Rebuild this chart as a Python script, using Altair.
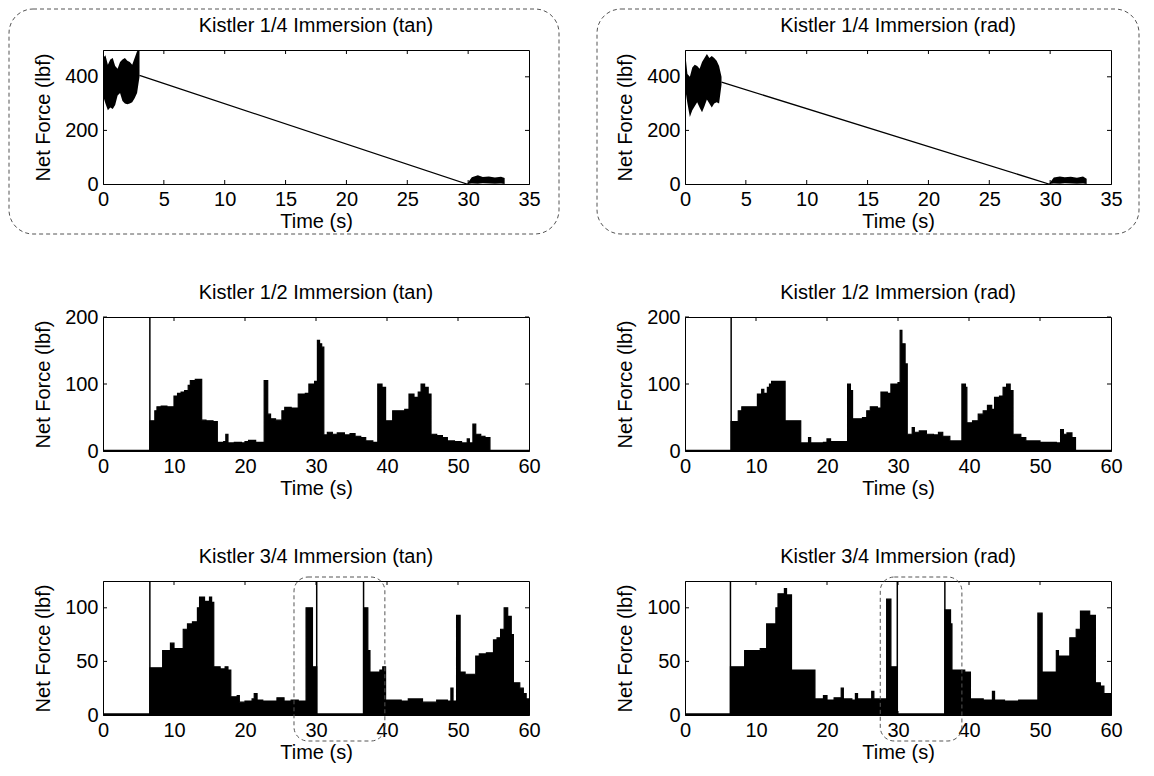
import altair as alt
import pandas as pd

FONT = "Liberation Sans"
W = 426
H = 134

# ---------------- data ----------------
# Kistler 1/4 Immersion (tan): oscillating band, straight ramp, final band
q_tan_band_t = [0.0, 0.2, 0.4, 0.6, 0.8, 1.0, 1.2, 1.4, 1.6, 1.8, 2.0, 2.2, 2.4, 2.6, 2.8, 3.0]
q_tan_band_hi = [470, 480, 445, 465, 470, 440, 430, 455, 465, 470, 460, 455, 445, 470, 495, 500]
q_tan_band_lo = [330, 300, 275, 285, 280, 295, 330, 340, 310, 300, 298, 300, 305, 320, 340, 400]
q_tan_ramp_t = [3.0, 29.9]
q_tan_ramp_v = [405, 0]
q_tan_end_t = [29.9, 30.3, 30.8, 31.2, 31.7, 32.2, 32.7, 33.0]
q_tan_end_hi = [0, 25, 33, 26, 28, 24, 27, 22]
q_tan_end_lo = [0, 2, 1, 3, 2, 1, 2, 0]

# Kistler 1/4 Immersion (rad)
q_rad_band_t = [0.0, 0.2, 0.4, 0.6, 0.8, 1.0, 1.2, 1.4, 1.6, 1.8, 2.0, 2.2, 2.4, 2.6, 2.8, 3.0]
q_rad_band_hi = [495, 410, 400, 435, 445, 440, 430, 455, 470, 485, 470, 478, 470, 460, 440, 400]
q_rad_band_lo = [360, 300, 250, 275, 290, 305, 285, 268, 290, 315, 300, 285, 300, 305, 300, 370]
q_rad_ramp_t = [3.0, 29.9]
q_rad_ramp_v = [380, 0]
q_rad_end_t = [29.9, 30.3, 30.8, 31.2, 31.7, 32.2, 32.7, 33.0]
q_rad_end_hi = [0, 24, 28, 25, 27, 23, 28, 20]
q_rad_end_lo = [0, 2, 1, 3, 2, 1, 2, 0]

# Kistler 1/2 Immersion (tan)
h_tan_t = [0, 6.6, 7.3, 7.6, 8.2, 9.0, 10.0, 10.5, 11.0, 11.5, 12.0, 12.3, 13.0, 13.9, 14.5,
           15.5, 16.1, 17.0, 17.3, 17.6, 18.5, 19.5, 20.0, 20.5, 21.5, 22.7, 23.2, 23.6, 24.3,
           25.2, 25.6, 26.5, 27.5, 28.5, 29.0, 29.8, 30.2, 30.5, 30.8, 31.1, 31.6, 32.3, 33.0,
           34.0, 34.8, 35.5, 36.3, 37.0, 38.0, 38.7, 39.3, 39.8, 40.8, 41.5, 42.5, 43.1, 43.8,
           44.4, 44.8, 45.3, 45.8, 46.2, 47.0, 47.8, 48.5, 49.5, 50.5, 51.3, 51.6, 52.1, 52.5,
           53.2, 53.8, 54.5, 60]
h_tan_v = [1, 45, 60, 66, 67, 66, 82, 86, 88, 90, 98, 105, 107, 46, 45,
           44, 13, 14, 25, 12, 13, 12, 14, 16, 13, 105, 55, 48, 46,
           60, 65, 64, 85, 86, 100, 104, 165, 160, 155, 24, 28, 25, 27,
           24, 26, 22, 20, 15, 13, 100, 95, 45, 60, 60, 62, 85, 80,
           88, 100, 95, 85, 25, 23, 20, 15, 14, 12, 18, 12, 40, 25,
           22, 20, 1, 1]
h_tan_spike_t = [6.6]

# Kistler 1/2 Immersion (rad)
h_rad_t = [0, 6.5, 7.5, 8.0, 10.2, 10.8, 11.1, 11.6, 11.9, 12.2, 14.1, 16.3, 17.4, 17.7, 19.5,
           20.0, 20.5, 22.0, 22.9, 23.3, 23.6, 25.0, 25.6, 26.1, 27.1, 27.6, 28.5, 29.0, 30.0,
           30.3, 30.55, 31.0, 31.3, 32.0, 32.3, 33.0, 34.0, 35.0, 35.7, 36.3, 37.3, 39.0, 39.5,
           39.7, 40.5, 41.3, 42.0, 42.6, 43.2, 43.6, 44.3, 44.8, 45.3, 45.8, 46.2, 47.3, 48.0,
           50.0, 52.3, 52.9, 53.3, 53.8, 54.5, 55.0, 60]
h_rad_v = [1, 44, 60, 66, 85, 92, 86, 95, 100, 104, 45, 12, 20, 12, 13,
           18, 14, 14, 100, 90, 48, 50, 60, 66, 64, 88, 86, 100, 102,
           180, 160, 130, 25, 35, 28, 30, 25, 24, 28, 22, 15, 100, 95,
           42, 45, 55, 60, 68, 62, 80, 82, 95, 100, 90, 25, 20, 15,
           13, 12, 32, 25, 27, 20, 1, 1]
h_rad_spike_t = [6.5]

# Kistler 3/4 Immersion (tan)
tq_tan_t = [0, 6.6, 8.4, 9.5, 10.0, 11.3, 11.9, 12.6, 13.3, 13.6, 14.3, 15.0, 15.3, 15.6, 16.5,
            17.2, 17.6, 18.0, 18.9, 19.2, 20.0, 21.0, 21.3, 21.7, 22.5, 24.0, 24.5, 25.5, 26.5,
            27.5, 28.6, 29.5, 30.1, 36.7, 37.3, 37.6, 39.0, 39.4, 39.8, 42.0, 43.0, 45.0, 47.0,
            48.5, 49.0, 49.3, 49.8, 50.3, 51.0, 52.5, 53.0, 54.0, 55.0, 55.5, 56.0, 56.5, 57.0,
            57.5, 57.8, 58.7, 59.2, 59.6, 60]
tq_tan_v = [1, 44, 60, 67, 62, 80, 85, 87, 100, 110, 106, 110, 105, 45, 43,
            45, 42, 17, 18, 12, 13, 15, 20, 14, 13, 13, 16, 13, 14,
            13, 100, 45, 1, 100, 60, 40, 42, 45, 14, 13, 15, 12, 14,
            13, 25, 13, 93, 40, 38, 55, 57, 58, 70, 72, 80, 100, 92,
            75, 30, 25, 20, 15, 15]
tq_tan_spike_t = [6.6, 30.1, 36.7]
tq_tan_box = [26.9, 39.7]

# Kistler 3/4 Immersion (rad)
tq_rad_t = [0, 6.4, 8.4, 10.6, 11.5, 12.8, 13.1, 14.0, 14.3, 15.0, 18.3, 19.5, 20.0, 21.0, 22.0,
            22.3, 23.5, 24.0, 24.3, 26.3, 26.6, 27.0, 28.4, 29.0, 29.9, 36.6, 37.4, 37.6, 39.4,
            40.2, 42.0, 43.3, 43.6, 45.0, 47.0, 49.7, 50.3, 52.3, 52.6, 54.2, 55.1, 55.7, 57.0,
            57.8, 58.5, 59.0, 59.5, 60]
tq_rad_v = [1, 45, 60, 62, 85, 100, 113, 118, 112, 42, 15, 18, 14, 16, 25,
            15, 14, 20, 15, 22, 15, 15, 108, 45, 1, 98, 85, 42, 40,
            15, 14, 22, 14, 13, 14, 95, 40, 60, 55, 72, 80, 97, 93,
            30, 27, 20, 20, 20]
tq_rad_spike_t = [6.4, 29.9, 36.6]
tq_rad_box = [27.5, 39.0]

X_TICKS_35 = [0, 5, 10, 15, 20, 25, 30, 35]
X_TICKS_60 = [0, 10, 20, 30, 40, 50, 60]
Y_TICKS_500 = [0, 200, 400]
Y_TICKS_200 = [0, 100, 200]
Y_TICKS_125 = [0, 50, 100]


# ---------------- helpers ----------------
def enc_x(xmax, ticks):
    return alt.X("t:Q", scale=alt.Scale(domain=[0, xmax], nice=False, zero=False),
                 axis=alt.Axis(values=ticks, title="Time (s)", titleX=W / 2, titleY=37,
                               titleAlign="center", titleBaseline="middle"))


def enc_y(ymax, ticks):
    return alt.Y("v:Q", scale=alt.Scale(domain=[0, ymax], nice=False, zero=True),
                 axis=alt.Axis(values=ticks, title="Net Force (lbf)", titleX=-60, titleY=H / 2,
                               titleAngle=270, titleAlign="center", titleBaseline="middle"))


def tick_layers(X, Y, xt, yt):
    dx = pd.DataFrame({"t": xt[1:-1]})
    dy = pd.DataFrame({"v": yt[1:]})
    r = dict(color="black", strokeWidth=1)
    return [
        alt.Chart(dx).mark_rule(**r).encode(x=X, y=alt.value(H), y2=alt.value(H - 4)),
        alt.Chart(dx).mark_rule(**r).encode(x=X, y=alt.value(0), y2=alt.value(4)),
        alt.Chart(dy).mark_rule(**r).encode(y=Y, x=alt.value(0), x2=alt.value(4)),
        alt.Chart(dy).mark_rule(**r).encode(y=Y, x=alt.value(W), x2=alt.value(W - 4)),
    ]


def frame(x1, x2, y1, y2):
    return alt.Chart(pd.DataFrame({"k": [0]})).mark_rect(
        filled=False, stroke="#555", strokeWidth=1, strokeDash=[4, 3], cornerRadius=24
    ).encode(x=alt.value(x1), x2=alt.value(x2), y=alt.value(y1), y2=alt.value(y2))


def title_mark(text):
    return alt.Chart(pd.DataFrame({"k": [0]})).mark_text(
        font=FONT, fontSize=20, color="black", align="center", baseline="middle"
    ).encode(x=alt.value(W / 2), y=alt.value(-24), text=alt.value(text))


def quarter_panel(name, bt, bhi, blo, rt, rv, et, ehi, elo, fx1, fx2):
    X = enc_x(35, X_TICKS_35)
    Y = enc_y(500, Y_TICKS_500)
    band = alt.Chart(pd.DataFrame({"t": bt, "v": bhi, "lo": blo})).mark_area(
        color="black", clip=True).encode(x=X, y=Y, y2=alt.Y2("lo"))
    ramp = alt.Chart(pd.DataFrame({"t": rt, "v": rv})).mark_line(
        color="black", strokeWidth=1.3, clip=True).encode(x=X, y=Y)
    end = alt.Chart(pd.DataFrame({"t": et, "v": ehi, "lo": elo})).mark_area(
        color="black", clip=True).encode(x=X, y=Y, y2=alt.Y2("lo"))
    layers = [band, ramp, end] + tick_layers(X, Y, X_TICKS_35, Y_TICKS_500) + [
        frame(fx1, fx2, -41, 184), title_mark(name)]
    return alt.layer(*layers).properties(width=W, height=H)


def signal_panel(name, t, v, spikes, ymax, yt, box=None):
    X = enc_x(60, X_TICKS_60)
    Y = enc_y(ymax, yt)
    df = pd.DataFrame({"t": t, "v": v})
    area = alt.Chart(df).mark_area(color="black", interpolate="step-after", clip=True).encode(x=X, y=Y)
    line = alt.Chart(df).mark_line(color="black", strokeWidth=1.2, interpolate="step-after",
                                   clip=True).encode(x=X, y=Y)
    sp = alt.Chart(pd.DataFrame({"t": spikes, "v": [0] * len(spikes), "v2": [ymax] * len(spikes)})
                   ).mark_rule(color="black", strokeWidth=1.5, clip=True).encode(x=X, y=Y, y2=alt.Y2("v2"))
    layers = [area, line, sp] + tick_layers(X, Y, X_TICKS_60, yt)
    if box is not None:
        layers.append(
            alt.Chart(pd.DataFrame({"t": [box[0]], "t2": [box[1]]})).mark_rect(
                filled=False, stroke="#555", strokeWidth=1, strokeDash=[4, 3], cornerRadius=14
            ).encode(x=X, x2=alt.X2("t2"), y=alt.value(-4), y2=alt.value(160))
        )
    layers.append(title_mark(name))
    return alt.layer(*layers).properties(width=W, height=H)


p1 = quarter_panel("Kistler 1/4 Immersion (tan)", q_tan_band_t, q_tan_band_hi, q_tan_band_lo,
                   q_tan_ramp_t, q_tan_ramp_v, q_tan_end_t, q_tan_end_hi, q_tan_end_lo, -94, W + 30)
p2 = quarter_panel("Kistler 1/4 Immersion (rad)", q_rad_band_t, q_rad_band_hi, q_rad_band_lo,
                   q_rad_ramp_t, q_rad_ramp_v, q_rad_end_t, q_rad_end_hi, q_rad_end_lo, -88, W + 28)
p3 = signal_panel("Kistler 1/2 Immersion (tan)", h_tan_t, h_tan_v, h_tan_spike_t, 200, Y_TICKS_200)
p4 = signal_panel("Kistler 1/2 Immersion (rad)", h_rad_t, h_rad_v, h_rad_spike_t, 200, Y_TICKS_200)
p5 = signal_panel("Kistler 3/4 Immersion (tan)", tq_tan_t, tq_tan_v, tq_tan_spike_t, 125, Y_TICKS_125,
                  box=tq_tan_box)
p6 = signal_panel("Kistler 3/4 Immersion (rad)", tq_rad_t, tq_rad_v, tq_rad_spike_t, 125, Y_TICKS_125,
                  box=tq_rad_box)

chart = alt.concat(p1, p2, p3, p4, p5, p6, columns=2, spacing={"row": 47, "column": 36}).properties(
    padding=0
).configure(background="white").configure_view(
    stroke="black", strokeWidth=1
).configure_axis(
    grid=False, ticks=False, domain=True, domainColor="black", domainWidth=1,
    labelFont=FONT, labelFontSize=20, labelColor="black", labelPadding=5,
    labelFlush=False, labelOverlap=False,
    titleFont=FONT, titleFontSize=20, titleFontWeight="normal", titleColor="black",
)

chart.save("out.html", embed_options={"renderer": "svg", "actions": False})
